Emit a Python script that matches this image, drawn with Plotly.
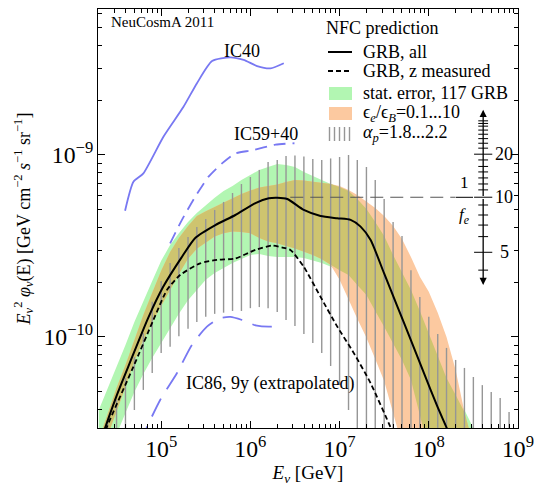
import numpy as np
import plotly.graph_objects as go

# ---------------- data ----------------
# NFC prediction, all GRBs (solid black)
grb_all_E = [2.06e4, 2.35e4, 3.29e4, 4.49e4, 7.14e4, 1.05e5, 1.68e5, 2.41e5, 4.05e5, 6.78e5,
             1.14e6, 1.61e6, 2.00e6, 2.59e6, 3.97e6, 6.12e6, 9.42e6, 1.33e7, 1.72e7, 2.23e7,
             3.15e7, 4.45e7, 6.28e7, 8.85e7, 1.25e8, 1.59e8, 2.01e8]
grb_all_flux = [2.62e-11, 3.16e-11, 4.99e-11, 7.29e-11, 1.27e-10, 1.88e-10, 2.72e-10, 3.50e-10, 4.12e-10, 4.68e-10,
                5.44e-10, 5.78e-10, 5.82e-10, 5.73e-10, 4.99e-10, 4.62e-10, 4.49e-10, 4.40e-10, 4.04e-10, 3.41e-10,
                2.24e-10, 1.47e-10, 9.64e-11, 6.32e-11, 4.14e-11, 3.16e-11, 2.39e-11]

# NFC prediction, GRBs with measured redshift (dashed black)
grb_z_E = [2.12e4, 2.45e4, 4.89e4, 8.18e4, 1.16e5, 1.63e5, 2.74e5, 4.23e5, 6.78e5, 1.14e6,
           1.75e6, 2.29e6, 2.81e6, 3.97e6, 6.12e6, 9.42e6, 1.45e7, 2.23e7, 3.74e7, 4.84e7]
grb_z_flux = [2.55e-11, 3.18e-11, 6.87e-11, 1.24e-10, 1.81e-10, 2.19e-10, 2.54e-10, 2.65e-10, 2.70e-10, 3.01e-10,
              3.18e-10, 3.10e-10, 3.01e-10, 2.43e-10, 1.66e-10, 1.14e-10, 8.13e-11, 5.57e-11, 3.18e-11, 2.39e-11]

# IceCube limits
ic40_E = [3.94e4, 4.89e4, 6.32e4, 1.06e5, 1.78e5, 2.52e5, 3.72e5, 5.96e5, 8.41e5, 1.19e6, 1.68e6, 2.37e6]
ic40_flux = [4.94e-10, 7.13e-10, 7.93e-10, 1.26e-9, 1.84e-9, 2.48e-9, 3.28e-9, 3.44e-9, 3.33e-9, 3.08e-9, 2.99e-9, 3.19e-9]

ic59_E = [1.26e5, 1.71e5, 2.41e5, 3.40e5, 4.81e5, 6.78e5, 1.04e6, 1.91e6, 3.12e6]
ic59_flux = [3.27e-10, 4.40e-10, 5.90e-10, 7.60e-10, 8.99e-10, 1.02e-9, 1.06e-9, 1.14e-9, 1.16e-9]

ic86_E = [5.81e4, 6.90e4, 9.75e4, 1.50e5, 2.21e5, 3.26e5, 4.60e5, 5.96e5, 8.07e5, 1.14e6, 1.68e6, 2.17e6]
ic86_flux = [2.55e-11, 3.18e-11, 4.51e-11, 6.32e-11, 9.04e-11, 1.14e-10, 1.27e-10, 1.29e-10, 1.24e-10, 1.16e-10,
             1.14e-10, 1.16e-10]

# uncertainty bands on a common energy grid
band_E = [2.0e4, 2.51e4, 3.16e4, 3.98e4, 5.01e4, 6.31e4, 7.94e4,
          1.0e5, 1.26e5, 1.58e5, 2.0e5, 2.51e5, 3.16e5, 3.98e5, 5.01e5, 6.31e5, 7.94e5,
          1.0e6, 1.26e6, 1.58e6, 2.0e6, 2.51e6, 3.16e6, 3.98e6, 5.01e6, 6.31e6, 7.94e6,
          1.0e7, 1.26e7, 1.58e7, 2.0e7, 2.51e7, 3.16e7, 3.98e7, 5.01e7, 6.31e7, 7.94e7,
          1.0e8, 1.26e8, 1.58e8, 2.0e8, 2.51e8, 3.16e8]
green_hi = [3.97e-11, 5.18e-11, 6.84e-11, 9.04e-11, 1.21e-10, 1.58e-10, 2.03e-10,
            2.62e-10, 3.20e-10, 3.72e-10, 4.29e-10, 4.80e-10, 5.31e-10, 5.83e-10, 6.34e-10, 6.76e-10, 7.29e-10,
            7.76e-10, 8.28e-10, 8.59e-10, 8.93e-10, 8.81e-10, 8.59e-10, 8.07e-10, 7.67e-10, 7.24e-10, 6.93e-10,
            6.67e-10, 6.34e-10, 5.73e-10, 5.05e-10, 4.29e-10, 3.59e-10, 2.82e-10, 2.28e-10, 1.81e-10, 1.39e-10,
            1.05e-10, 7.96e-11, 5.96e-11, 4.80e-11, 3.97e-11, 3.16e-11]
green_lo = [1.70e-11, 2.25e-11, 2.93e-11, 3.82e-11, 4.99e-11, 6.27e-11, 7.67e-11,
            9.27e-11, 1.12e-10, 1.34e-10, 1.59e-10, 1.81e-10, 2.06e-10, 2.25e-10, 2.39e-10, 2.55e-10, 2.69e-10,
            2.82e-10, 2.86e-10, 2.79e-10, 2.75e-10, 2.75e-10, 2.75e-10, 2.72e-10, 2.63e-10, 2.55e-10, 2.45e-10,
            2.33e-10, 2.19e-10, 1.93e-10, 1.70e-10, 1.39e-10, 1.14e-10, 9.27e-11, 7.48e-11, 5.81e-11, 3.72e-11,
            2.39e-11, 1.5e-11, 1.5e-11, 1.5e-11, 1.5e-11, 1.5e-11]
orange_hi = [2.72e-11, 3.72e-11, 5.25e-11, 7.01e-11, 9.64e-11, 1.32e-10, 1.75e-10,
             2.31e-10, 2.93e-10, 3.50e-10, 4.07e-10, 4.62e-10, 4.90e-10, 5.18e-10, 5.48e-10, 5.81e-10, 6.11e-10,
             6.38e-10, 6.62e-10, 6.76e-10, 6.89e-10, 7.11e-10, 7.29e-10, 7.24e-10, 7.15e-10, 7.06e-10, 6.93e-10,
             6.76e-10, 6.43e-10, 6.03e-10, 5.58e-10, 5.12e-10, 4.62e-10, 4.07e-10, 3.45e-10, 2.75e-10, 2.14e-10,
             1.77e-10, 1.36e-10, 1.00e-10, 6.59e-11, 3.87e-11, 2.55e-11]
orange_lo = [2.11e-11, 2.79e-11, 3.87e-11, 5.31e-11, 7.38e-11, 9.64e-11, 1.21e-10,
             1.48e-10, 1.81e-10, 2.22e-10, 2.69e-10, 3.05e-10, 3.30e-10, 3.56e-10, 3.71e-10, 3.80e-10, 3.78e-10,
             3.71e-10, 3.50e-10, 3.35e-10, 3.27e-10, 3.16e-10, 3.06e-10, 2.95e-10, 2.82e-10, 2.67e-10, 2.49e-10,
             2.06e-10, 1.62e-10, 1.26e-10, 9.89e-11, 7.57e-11, 5.73e-11, 3.82e-11, 2.55e-11, 1.86e-11, 1.86e-11,
             1.86e-11, 1.86e-11, 1.86e-11, 1.86e-11, 1.86e-11, 1.86e-11]

# alpha_p = 1.8 ... 2.2 range (vertical hatch lines)
alpha_E = [2.51e4, 3.16e4, 3.98e4, 5.01e4, 6.31e4, 7.94e4,
           1.0e5, 1.26e5, 1.58e5, 2.0e5, 2.51e5, 3.16e5, 3.98e5, 5.01e5, 6.31e5, 7.94e5,
           1.0e6, 1.26e6, 1.58e6, 2.0e6, 2.51e6, 3.16e6, 3.98e6, 5.01e6, 6.31e6, 7.94e6,
           1.0e7, 1.26e7, 1.58e7, 2.0e7, 2.51e7, 3.16e7, 3.98e7, 5.01e7, 6.31e7, 7.94e7,
           1.0e8, 1.26e8, 1.58e8, 2.0e8, 2.51e8, 3.16e8, 3.98e8, 5.01e8, 6.31e8, 7.94e8]
alpha_hi = [3.50e-11, 4.51e-11, 5.96e-11, 7.76e-11, 1.05e-10, 1.56e-10,
            2.03e-10, 2.55e-10, 3.08e-10, 3.54e-10, 4.02e-10, 4.45e-10, 4.99e-10, 5.52e-10, 6.18e-10, 6.93e-10,
            7.57e-10, 8.28e-10, 9.16e-10, 9.39e-10, 9.88e-10, 9.94e-10, 9.82e-10, 9.51e-10, 9.39e-10, 9.57e-10,
            9.75e-10, 1.00e-9, 9.39e-10, 8.59e-10, 7.29e-10, 5.73e-10, 4.29e-10, 3.59e-10, 2.33e-10, 1.66e-10,
            1.29e-10, 1.04e-10, 8.71e-11, 7.48e-11, 6.76e-11, 6.03e-11, 5.44e-11, 4.99e-11, 4.62e-11, 3.87e-11]
alpha_lo = [2.0e-11, 2.0e-11, 2.0e-11, 3.97e-11, 5.12e-11, 6.34e-11,
            8.17e-11, 8.85e-11, 1.01e-10, 1.11e-10, 1.21e-10, 1.29e-10, 1.34e-10, 1.36e-10, 1.39e-10, 1.39e-10,
            1.44e-10, 1.46e-10, 1.44e-10, 1.37e-10, 1.24e-10, 1.15e-10, 1.04e-10, 9.27e-11, 8.17e-11, 6.93e-11,
            5.44e-11, 3.97e-11, 2.0e-11, 2.0e-11, 2.0e-11, 2.0e-11, 2.0e-11, 2.0e-11, 2.0e-11, 2.0e-11,
            2.0e-11, 2.0e-11, 2.0e-11, 2.0e-11, 2.0e-11, 2.0e-11, 2.0e-11, 2.0e-11, 2.0e-11, 2.0e-11]

# 1/f_e scale (arrow axis): position, ticks, dashed reference line
fe_axis_E = 4.07e8
fe_axis_span = [1.93e-10, 1.77e-9]
fe_major_labels = ["5", "10", "20"]
fe_major_flux = [2.92e-10, 5.86e-10, 1.01e-9]
fe_minor_flux = [2.33e-10, 3.56e-10, 4.12e-10, 4.68e-10, 5.31e-10, 6.43e-10, 6.93e-10, 7.48e-10, 8.07e-10,
                 8.65e-10, 9.39e-10, 1.09e-9, 1.16e-9, 1.23e-9, 1.30e-9, 1.37e-9, 1.44e-9, 1.49e-9, 1.54e-9]
fe_ref_E = [2.8e6, 2.0e8]
fe_ref_flux = 5.86e-10

# ---------------- figure ----------------
W, H = 536, 488
PL, PR, PT, PB = 98, 518, 9, 428          # plot box in page pixels
ML, MT, MR, MB = PL, PT, W - PR, H - PB
PW, PH = PR - PL, PB - PT
FONT = "Liberation Serif"


def xp(px):
    return (px - PL) / PW


def yp(py):
    return (PB - py) / PH


GREEN = "#b2f6b2"
ORANGE = "#fcc9a0"
OLIVE = "#cec46f"
BLUE = "#7878f2"
HATCH = "#969696"

fig = go.Figure()


def band(hi, lo, color):
    fig.add_trace(go.Scatter(x=band_E + band_E[::-1], y=list(hi) + list(lo)[::-1],
                             fill="toself", fillcolor=color, mode="lines",
                             line=dict(width=0, color=color), hoverinfo="skip", showlegend=False))


band(green_hi, green_lo, GREEN)
band(orange_hi, orange_lo, ORANGE)
ov_hi = np.minimum(green_hi, orange_hi)
ov_lo = np.maximum(green_lo, orange_lo)
band(ov_hi, ov_lo, OLIVE)

hx, hy = [], []
for e, lo, hi in zip(alpha_E, alpha_lo, alpha_hi):
    hx += [e, e, None]
    hy += [lo, hi, None]
fig.add_trace(go.Scatter(x=hx, y=hy, mode="lines", line=dict(color=HATCH, width=1.4),
                         showlegend=False, hoverinfo="skip"))

fig.add_trace(go.Scatter(x=ic40_E, y=ic40_flux, mode="lines",
                         line=dict(color=BLUE, width=1.8, shape="spline", smoothing=0.6), showlegend=False))
fig.add_trace(go.Scatter(x=ic59_E, y=ic59_flux, mode="lines",
                         line=dict(color=BLUE, width=1.8, dash="12px,7px", shape="spline", smoothing=0.6),
                         showlegend=False))
fig.add_trace(go.Scatter(x=ic86_E, y=ic86_flux, mode="lines",
                         line=dict(color=BLUE, width=1.8, dash="20px,11px", shape="spline", smoothing=0.6),
                         showlegend=False))

fig.add_trace(go.Scatter(x=fe_ref_E, y=[fe_ref_flux, fe_ref_flux], mode="lines",
                         line=dict(color="#555555", width=1.1, dash="13px,7px"), showlegend=False))

fig.add_trace(go.Scatter(x=grb_z_E, y=grb_z_flux, mode="lines",
                         line=dict(color="black", width=1.8, dash="5px,3px", shape="spline", smoothing=0.6),
                         showlegend=False))
fig.add_trace(go.Scatter(x=grb_all_E, y=grb_all_flux, mode="lines",
                         line=dict(color="black", width=2, shape="spline", smoothing=0.6),
                         showlegend=False))

# arrow axis for 1/f_e
fig.add_trace(go.Scatter(x=[fe_axis_E] * len(fe_minor_flux), y=fe_minor_flux, mode="markers",
                         marker=dict(symbol="line-ew", size=7, line=dict(width=1, color="black")),
                         showlegend=False, hoverinfo="skip"))
fig.add_trace(go.Scatter(x=[fe_axis_E] * len(fe_major_flux), y=fe_major_flux, mode="markers",
                         marker=dict(symbol="line-ew", size=13, line=dict(width=1, color="black")),
                         showlegend=False, hoverinfo="skip"))

ax_mid = np.sqrt(fe_axis_span[0] * fe_axis_span[1])
for tip in fe_axis_span:
    fig.add_annotation(x=np.log10(fe_axis_E), y=np.log10(tip), xref="x", yref="y",
                       ax=np.log10(fe_axis_E), ay=np.log10(ax_mid), axref="x", ayref="y",
                       text="", showarrow=True, arrowhead=2, arrowsize=1.1, arrowwidth=1.3,
                       arrowcolor="black", standoff=0, startstandoff=0)

for lab, fl in zip(fe_major_labels, fe_major_flux):
    fig.add_annotation(x=np.log10(fe_axis_E), y=np.log10(fl), xref="x", yref="y",
                       text=lab, showarrow=False, xanchor="center", yanchor="middle", xshift=21,
                       font=dict(size=18, family=FONT, color="black"))

txt_font = dict(size=18, family=FONT, color="black")


def label(px, py, text, anchor="center", font=txt_font):
    fig.add_annotation(x=xp(px), y=yp(py), xref="paper", yref="paper", text=text, showarrow=False,
                       xanchor=anchor, yanchor="middle", font=font)


# fraction 1/f_e
label(464.5, 182, "1", font=dict(size=17, family=FONT, color="black"))
label(464, 216, "<i>f</i><sub><i>e</i></sub>", font=dict(size=17, family=FONT, color="black"))
fig.add_shape(type="line", xref="paper", yref="paper", x0=xp(456), x1=xp(473), y0=yp(197.3), y1=yp(197.3),
              line=dict(color="black", width=1))

# curve labels
label(242, 51, "IC40")
label(266, 134, "IC59+40")
label(269.5, 383, "IC86, 9y (extrapolated)")
label(109, 22.5, "NeuCosmA 2011", anchor="left", font=dict(size=15, family=FONT, color="black"))

# legend (drawn by hand)
label(324, 28, "NFC prediction", anchor="left")
leg_rows = [(52, "GRB, all"), (71, "GRB, z measured"), (93, "stat. error, 117 GRB"),
            (113, "ϵ<sub><i>e</i></sub>/ϵ<sub><i>B</i></sub>=0.1...10"),
            (133, "<i>α</i><sub><i>p</i></sub>=1.8...2.2")]
for yy, txt in leg_rows:
    label(361, yy, txt, anchor="left")
fig.add_shape(type="line", xref="paper", yref="paper", x0=xp(328), x1=xp(352), y0=yp(52), y1=yp(52),
              line=dict(color="black", width=2))
fig.add_shape(type="line", xref="paper", yref="paper", x0=xp(328), x1=xp(352), y0=yp(71), y1=yp(71),
              line=dict(color="black", width=1.8, dash="5px,3px"))
fig.add_shape(type="rect", xref="paper", yref="paper", x0=xp(329), x1=xp(352), y0=yp(100), y1=yp(87),
              fillcolor=GREEN, line=dict(width=0))
fig.add_shape(type="rect", xref="paper", yref="paper", x0=xp(329), x1=xp(352), y0=yp(120), y1=yp(107),
              fillcolor=ORANGE, line=dict(width=0))
for hxp in [329.5, 334.5, 339.5, 344.5, 349.5]:
    fig.add_shape(type="line", xref="paper", yref="paper", x0=xp(hxp), x1=xp(hxp), y0=yp(141), y1=yp(127),
                  line=dict(color=HATCH, width=1.4))

axis_common = dict(type="log", showline=True, linecolor="black", linewidth=1, mirror="ticks",
                   ticks="inside", ticklen=7, tickwidth=1, tickcolor="black", showgrid=False, zeroline=False,
                   dtick=1, exponentformat="power", showexponent="all",
                   tickfont=dict(size=19, family=FONT, color="black"),
                   minor=dict(ticks="inside", ticklen=4, tickcolor="black", showgrid=False))

fig.update_layout(
    width=W, height=H, margin=dict(l=ML, r=MR, t=MT, b=MB, autoexpand=False),
    plot_bgcolor="white", paper_bgcolor="white", showlegend=False, hovermode=False,
    font=dict(family=FONT, color="black"),
    xaxis=dict(axis_common, range=[4.292, 9.0],
               title=dict(text="<i>E</i><sub><i>ν</i></sub> [GeV]", font=dict(size=19, family=FONT), standoff=2)),
    yaxis=dict(axis_common, range=[-10.5, -8.198],
               title=dict(text="<i>E</i><sub><i>ν</i></sub><sup>2</sup> <i>φ</i><sub><i>ν</i></sub>(E) [GeV cm<sup>−2</sup> <i>s</i><sup>−1</sup> sr<sup>−1</sup>]",
                          font=dict(size=18, family=FONT), standoff=8)),
)

# remove the browser's default page margin so the 536x488 figure fills the window exactly
fig.write_html("out.html", config={"displayModeBar": False},
               post_script="document.body.style.margin='0px';document.body.style.overflow='hidden';")
